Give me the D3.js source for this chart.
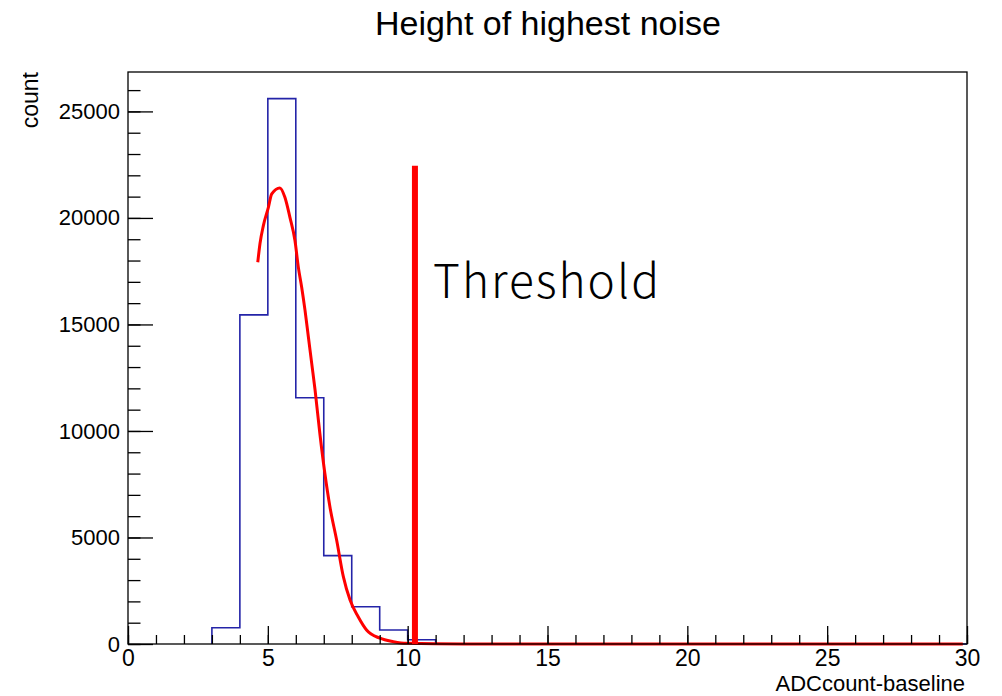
<!DOCTYPE html>
<html>
<head>
<meta charset="utf-8">
<script src="https://cdn.jsdelivr.net/npm/d3@7"></script>
<style>
  body { margin: 0; background: #fff; }
  svg { display: block; }
</style>
</head>
<body>
<div id="chart"></div>
<script>
// histogram: counts per 1-wide bin, bins 0..29
const binEdges = d3.range(0, 31);
const binCounts = [0, 0, 0, 766, 15450, 25600, 11560, 4150, 1750, 660, 200,
  0, 0, 0, 0, 0, 0, 0, 0, 0, 0, 0, 0, 0, 0, 0, 0, 0, 0, 0];

// fitted curve
const fitX = [4.64, 4.72, 4.84, 5.02, 5.14, 5.43, 5.61, 5.79, 5.97, 6.09, 6.21, 6.33,
  6.45, 6.57, 6.69, 6.86, 7.04, 7.22, 7.46, 7.70, 7.94, 8.23, 8.53, 9.01, 9.49, 9.96, 12, 29.85];
const fitY = [17920, 18800, 19640, 20500, 21130, 21410, 20970, 20030, 18940, 17690, 16750, 15660,
  14410, 13160, 11910, 9880, 8000, 6440, 4880, 3160, 2060, 1280, 660, 270, 110, 30, 0, 0];

const threshold = { x: 10.26, top: 22450 };

const xMajor = [0, 5, 10, 15, 20, 25, 30];
const yMajor = [0, 5000, 10000, 15000, 20000, 25000];

const W = 1002, H = 696;
const frame = { left: 128, right: 967, top: 72, bottom: 644 };

const svg = d3.select('#chart')
  .append('svg')
  .attr('width', W)
  .attr('height', H)
  .style('font-family', '"Liberation Sans", Arial, sans-serif');

const x = d3.scaleLinear().domain([0, 30]).range([frame.left, frame.right]);
const y = d3.scaleLinear().domain([0, 26850]).range([frame.bottom, frame.top]);

// title
svg.append('text')
  .attr('x', 548)
  .attr('y', 35)
  .attr('text-anchor', 'middle')
  .attr('font-size', 34)
  .attr('fill', '#000')
  .text('Height of highest noise');

// histogram outline
const steps = [[x(3), y(0)]];
for (let i = 3; i < binCounts.length; i++) {
  steps.push([x(binEdges[i]), y(binCounts[i])]);
  steps.push([x(binEdges[i + 1]), y(binCounts[i])]);
}
svg.append('path')
  .attr('d', d3.line()(steps))
  .attr('fill', 'none')
  .attr('stroke', '#2424a8')
  .attr('stroke-width', 1.6);

// fit curve
const fitData = fitX.map((d, i) => ({ x: d, y: fitY[i] }));
svg.append('path')
  .datum(fitData)
  .attr('d', d3.line().x(d => x(d.x)).y(d => y(d.y)).curve(d3.curveMonotoneX))
  .attr('fill', 'none')
  .attr('stroke', '#ff0000')
  .attr('stroke-width', 3);

// axes
const xAxisMinor = d3.axisBottom(x).tickValues(d3.range(0, 31)).tickSize(-9).tickFormat('');
const xAxisMajor = d3.axisBottom(x).tickValues(xMajor).tickSize(-18).tickPadding(6);
const yAxisMinor = d3.axisLeft(y).tickValues(d3.range(0, 27000, 1000)).tickSize(-12.5).tickFormat('');
const yAxisMajor = d3.axisLeft(y).tickValues(yMajor).tickSize(-25).tickPadding(8).tickFormat(d3.format('d'));

const styleAxis = (g, size) => {
  g.select('.domain').remove();
  g.selectAll('line').attr('stroke', '#000').attr('stroke-width', 1.3);
  g.selectAll('text').attr('font-size', size).attr('fill', '#000')
    .style('font-family', '"Liberation Sans", Arial, sans-serif');
};

svg.append('g').attr('transform', `translate(0,${frame.bottom})`).call(xAxisMinor).call(g => styleAxis(g, 23));
svg.append('g').attr('transform', `translate(0,${frame.bottom})`).call(xAxisMajor).call(g => styleAxis(g, 23));
svg.append('g').attr('transform', `translate(${frame.left},0)`).call(yAxisMinor).call(g => styleAxis(g, 22));
svg.append('g').attr('transform', `translate(${frame.left},0)`).call(yAxisMajor).call(g => styleAxis(g, 22));

// frame
svg.append('rect')
  .attr('x', frame.left)
  .attr('y', frame.top)
  .attr('width', frame.right - frame.left)
  .attr('height', frame.bottom - frame.top)
  .attr('fill', 'none')
  .attr('stroke', '#000')
  .attr('stroke-width', 1.3);

// threshold line
svg.append('line')
  .attr('x1', x(threshold.x))
  .attr('x2', x(threshold.x))
  .attr('y1', y(threshold.top))
  .attr('y2', y(0))
  .attr('stroke', '#ff0000')
  .attr('stroke-width', 6);

svg.append('text')
  .attr('x', 433)
  .attr('y', 298)
  .attr('font-size', 46)
  .attr('textLength', 226)
  .attr('fill', '#000')
  .style('font-family', '"Noto Sans CJK JP", "Noto Sans", sans-serif')
  .style('font-weight', 300)
  .text('Threshold');

// axis titles
svg.append('text')
  .attr('x', 965)
  .attr('y', 691)
  .attr('text-anchor', 'end')
  .attr('font-size', 22)
  .attr('fill', '#000')
  .text('ADCcount-baseline');

svg.append('clipPath').attr('id', 'yclip')
  .append('rect').attr('x', 23).attr('y', 0).attr('width', 100).attr('height', 300);

svg.append('g').attr('clip-path', 'url(#yclip)')
  .append('text')
  .attr('transform', 'translate(38,72) rotate(-90)')
  .attr('text-anchor', 'end')
  .attr('font-size', 23)
  .attr('fill', '#000')
  .text('count');
</script>
</body>
</html>
